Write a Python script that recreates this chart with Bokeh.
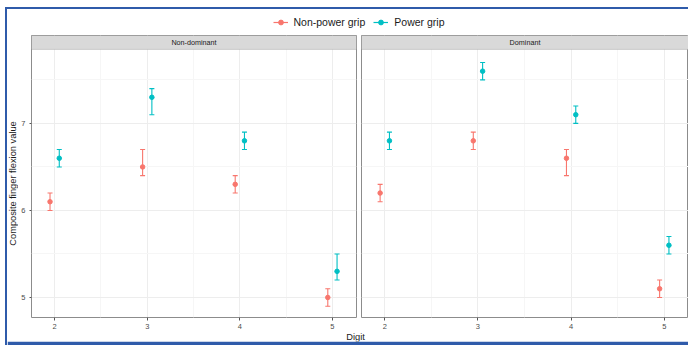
import math
from bokeh.plotting import figure
from bokeh.models import (ColumnDataSource, Range1d, FixedTicker, Whisker, BoxAnnotation,
                          Label, Legend, LegendItem, TeeHead)
from bokeh.layouts import column, row
from bokeh.transform import dodge
from bokeh.embed import file_html
from bokeh.resources import INLINE

# ---------------- data ----------------
digits = [2, 3, 4, 5]
panels = ["Non-dominant", "Dominant"]
series = ["Non-power grip", "Power grip"]

nd_np_mean = [6.1, 6.5, 6.3, 5.0]
nd_np_lo = [6.0, 6.4, 6.2, 4.9]
nd_np_hi = [6.2, 6.7, 6.4, 5.1]
nd_p_mean = [6.6, 7.3, 6.8, 5.3]
nd_p_lo = [6.5, 7.1, 6.7, 5.2]
nd_p_hi = [6.7, 7.4, 6.9, 5.5]

d_np_mean = [6.2, 6.8, 6.6, 5.1]
d_np_lo = [6.1, 6.7, 6.4, 5.0]
d_np_hi = [6.3, 6.9, 6.7, 5.2]
d_p_mean = [6.8, 7.6, 7.1, 5.6]
d_p_lo = [6.7, 7.5, 7.0, 5.5]
d_p_hi = [6.9, 7.7, 7.2, 5.7]

y_ticks = [5, 6, 7]
x_ticks = digits
y_title = "Composite finger flexion value"
x_title = "Digit"

# ---------------- style ----------------
RED = "#F8766D"
CYAN = "#00BFC4"
FRAME = "#8C8C8C"
STRIP = "#D9D9D9"
BLUE = "#2F5BAA"
FONT = "Liberation Sans"
X_LO, X_HI = 1.75, 5.26
Y_LO, Y_PANEL_TOP, Y_HI = 4.77, 7.85, 8.01
DODGE = 0.05


def src(mean, lo, hi):
    return ColumnDataSource(dict(digit=digits, mean=mean, lo=lo, hi=hi))


def bare(fig):
    fig.outline_line_color = None
    fig.xgrid.visible = False
    fig.ygrid.visible = False
    fig.border_fill_color = "white"
    fig.background_fill_color = "white"
    return fig


def make_panel(name, np_src, p_src, first, width, mb_left, mb_right):
    p = figure(width=width, height=296, x_range=Range1d(X_LO, X_HI),
               y_range=Range1d(Y_LO, Y_HI), toolbar_location=None,
               output_backend="svg", min_border_left=mb_left,
               min_border_right=mb_right, min_border_top=0, min_border_bottom=13)
    p.background_fill_color = "white"
    p.border_fill_color = "white"
    p.outline_line_color = FRAME
    p.outline_line_width = 1

    p.xaxis.ticker = FixedTicker(ticks=x_ticks, minor_ticks=[2.5, 3.5, 4.5])
    p.yaxis.ticker = FixedTicker(ticks=y_ticks, minor_ticks=[4.5, 5.5, 6.5, 7.5])
    for ax in (p.xaxis, p.yaxis):
        ax.axis_line_color = None
        ax.major_tick_in = 0
        ax.major_tick_out = 3
        ax.major_tick_line_color = "#555555"
        ax.minor_tick_line_color = None
        ax.major_label_text_font = FONT
        ax.major_label_text_font_size = "7.5px"
        ax.major_label_text_color = "#4D4D4D"
        ax.major_label_standoff = 2
        ax.axis_label_standoff = 0
    if first:
        p.yaxis.major_tick_out = 2
    else:
        p.yaxis.visible = False

    p.xgrid.grid_line_color = "#EDEDED"
    p.ygrid.grid_line_color = "#EDEDED"
    p.xgrid.minor_grid_line_color = "#F6F6F6"
    p.ygrid.minor_grid_line_color = "#F6F6F6"

    for s, color, off in ((np_src, RED, -DODGE), (p_src, CYAN, DODGE)):
        xs = dodge("digit", off)
        w = Whisker(source=s, base=xs, upper="hi", lower="lo", dimension="height",
                    line_color=color, line_width=1.1,
                    upper_head=TeeHead(size=5, line_color=color, line_width=1.1),
                    lower_head=TeeHead(size=5, line_color=color, line_width=1.1))
        p.add_layout(w)
        p.scatter(x=xs, y="mean", source=s, size=4.5, color=color)

    strip = BoxAnnotation(bottom=Y_PANEL_TOP, fill_color=STRIP, fill_alpha=1,
                          line_color=FRAME, line_width=1)
    p.add_layout(strip)
    p.add_layout(Label(x=(X_LO + X_HI) / 2, y=(Y_PANEL_TOP + Y_HI) / 2, text=name,
                       text_align="center", text_baseline="middle",
                       text_font=FONT, text_font_size="7.2px", text_color="#1A1A1A"))
    return p


left = make_panel(panels[0], src(nd_np_mean, nd_np_lo, nd_np_hi),
                  src(nd_p_mean, nd_p_lo, nd_p_hi), True, 340, 9, 2)
right = make_panel(panels[1], src(d_np_mean, d_np_lo, d_np_hi),
                   src(d_p_mean, d_p_lo, d_p_hi), False, 330, 3, 0)

# ---------------- y axis title ----------------
ylab = bare(figure(width=11, height=296, x_range=Range1d(0, 1), y_range=Range1d(0, 283),
                   toolbar_location=None, output_backend="svg", min_border=0,
                   min_border_bottom=13, x_axis_location=None, y_axis_location=None))
ylab.add_layout(Label(x=0.5, y=134.5, text=y_title, angle=math.pi / 2,
                      text_align="center", text_baseline="middle",
                      text_font=FONT, text_font_size="9.3px", text_color="#1A1A1A"))

# ---------------- legend ----------------
leg = bare(figure(width=681, height=26, x_range=Range1d(0, 1), y_range=Range1d(0, 1),
                  toolbar_location=None, output_backend="svg", min_border=0,
                  min_border_left=22, x_axis_location=None, y_axis_location=None))
leg.frame_align = False
items = []
for name, mean, color in ((series[0], nd_np_mean, RED), (series[1], nd_p_mean, CYAN)):
    s = ColumnDataSource(dict(digit=digits, mean=mean))
    r1 = leg.line(x="digit", y="mean", source=s, color=color, line_width=1.2)
    r2 = leg.scatter(x="digit", y="mean", source=s, color=color, size=4.5)
    items.append(LegendItem(label=name, renderers=[r1, r2]))
legend = Legend(items=items, orientation="horizontal", location="center",
                border_line_color=None, background_fill_alpha=0, padding=0, margin=0,
                label_text_font=FONT, label_text_font_size="10.5px",
                label_text_color="#1A1A1A", glyph_width=15, glyph_height=12,
                label_standoff=6, spacing=8)
leg.add_layout(legend, "center")

# ---------------- x axis title + bottom band ----------------
bot = figure(width=681, height=14, x_range=Range1d(0, 681), y_range=Range1d(0, 10),
             toolbar_location=None, output_backend="svg", min_border=0,
             min_border_bottom=4, x_axis_location=None, y_axis_location=None)
bot.frame_align = False
bot.outline_line_color = None
bot.xgrid.visible = False
bot.ygrid.visible = False
bot.border_fill_color = BLUE
bot.background_fill_color = "white"
bot.add_layout(Label(x=348, y=5, text=x_title, text_align="center", text_baseline="middle",
                     text_font=FONT, text_font_size="9.3px", text_color="#1A1A1A"))

layout = column(leg, row(ylab, left, right), bot,
                styles={"border-left": f"2px solid {BLUE}", "border-top": f"2px solid {BLUE}",
                        "margin-left": "5px", "margin-top": "7px"})

open("out.html", "w").write(file_html(layout, INLINE))
